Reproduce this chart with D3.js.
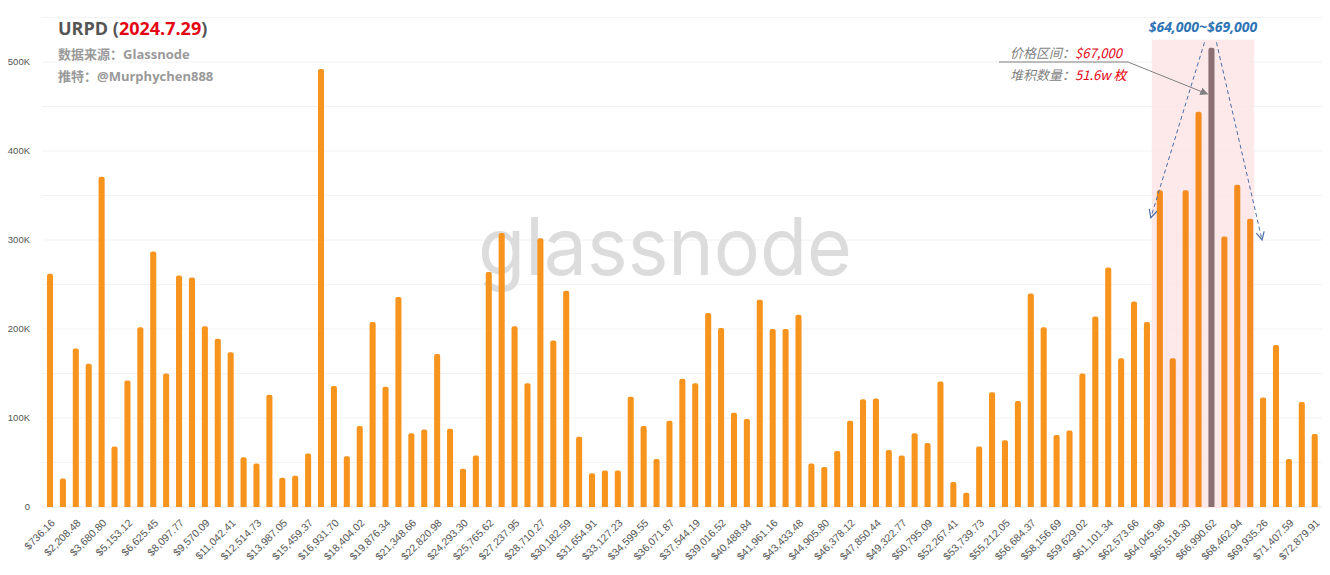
<!DOCTYPE html>
<html><head><meta charset="utf-8">
<script src="https://cdn.jsdelivr.net/npm/d3@7"></script>
<style>
html,body{margin:0;padding:0;background:#fff;}
svg{display:block;}
</style></head>
<body>
<svg id="chart" width="1330" height="575"></svg>
<script>
const categories = [
"$736.16","$1,472.32","$2,208.48","$2,944.64","$3,680.80","$4,416.96","$5,153.12","$5,889.29","$6,625.45","$7,361.61",
"$8,097.77","$8,833.93","$9,570.09","$10,306.25","$11,042.41","$11,778.57","$12,514.73","$13,250.89","$13,987.05","$14,723.21",
"$15,459.37","$16,195.54","$16,931.70","$17,667.86","$18,404.02","$19,140.18","$19,876.34","$20,612.50","$21,348.66","$22,084.82",
"$22,820.98","$23,557.14","$24,293.30","$25,029.46","$25,765.62","$26,501.79","$27,237.95","$27,974.11","$28,710.27","$29,446.43",
"$30,182.59","$30,918.75","$31,654.91","$32,391.07","$33,127.23","$33,863.39","$34,599.55","$35,335.71","$36,071.87","$36,808.04",
"$37,544.19","$38,280.36","$39,016.52","$39,752.68","$40,488.84","$41,225.00","$41,961.16","$42,697.32","$43,433.48","$44,169.64",
"$44,905.80","$45,641.96","$46,378.12","$47,114.29","$47,850.44","$48,586.61","$49,322.77","$50,058.93","$50,795.09","$51,531.25",
"$52,267.41","$53,003.57","$53,739.73","$54,475.89","$55,212.05","$55,948.21","$56,684.37","$57,420.54","$58,156.69","$58,892.86",
"$59,629.02","$60,365.18","$61,101.34","$61,837.50","$62,573.66","$63,309.82","$64,045.98","$64,782.14","$65,518.30","$66,254.46",
"$66,990.62","$67,726.79","$68,462.94","$69,199.11","$69,935.26","$70,671.43","$71,407.59","$72,143.75","$72,879.91"
];
// supply (BTC)
const supply = [
262000,32000,178000,161000,371000,68000,142000,202000,287000,150000,
260000,258000,203000,189000,174000,56000,49000,126000,33000,35000,
60000,492000,136000,57000,91000,208000,135000,236000,83000,87000,
172000,88000,43000,58000,264000,308000,203000,139000,302000,187000,
243000,79000,38000,41000,41000,124000,91000,54000,97000,144000,
139000,218000,201000,106000,99000,233000,200000,200000,216000,49000,
45000,63000,97000,121000,122000,64000,58000,83000,72000,141000,
28000,16000,68000,129000,75000,119000,240000,202000,81000,86000,
150000,214000,269000,167000,231000,208000,356000,167000,356000,444000,
516000,304000,362000,324000,123000,182000,54000,118000,82000
];
const yTickValues = [0,100000,200000,300000,400000,500000];
const yTickLabels = ["0","100K","200K","300K","400K","500K"];
const gridValues = [0,50000,100000,150000,200000,250000,300000,350000,400000,450000,500000,550000];
const highlightIndex = 90;
const rangeStart = 86, rangeEnd = 93;

const svg = d3.select("#chart");
const W = 1330, H = 575;
svg.append("rect").attr("width",W).attr("height",H).attr("fill","#fff");

const x = d3.scaleBand().domain(categories)
  .range([43.55, 1321.15]).paddingInner(0.53).paddingOuter(0.265);
const y = d3.scaleLinear().domain([0,550000]).range([507,17.5]);

// grid
svg.append("g").selectAll("line").data(gridValues).join("line")
  .attr("x1",42).attr("x2",1322)
  .attr("y1",d=>y(d)).attr("y2",d=>y(d))
  .attr("stroke",d=>d===0?"#e3e7ee":"#f2f2f2").attr("stroke-width",1);

// watermark
svg.append("text").attr("x",478).attr("y",275)
  .attr("font-family","Inter, 'Open Sans', sans-serif")
  .attr("font-size",80).attr("font-weight",400)
  .attr("fill","#dcdcdc").attr("textLength",374).attr("lengthAdjust","spacingAndGlyphs")
  .text("glassnode");

// highlight shading
const sx0 = x(categories[rangeStart]) - 5;
const sx1 = x(categories[rangeEnd]) + x.bandwidth() + 1;
svg.append("rect").attr("x",sx0).attr("y",y(525000))
  .attr("width",sx1-sx0).attr("height",y(0)-y(525000)+1)
  .attr("fill","#fde5e6").attr("opacity",0.85);

// bars
const bw = x.bandwidth();
svg.append("g").selectAll("path").data(supply).join("path")
  .attr("d",(d,i)=>{
    const x0 = x(categories[i]), x1 = x0 + bw, yt = y(d), yb = y(0), r = Math.min(2, bw/2);
    return `M${x0},${yb} L${x0},${yt+r} Q${x0},${yt} ${x0+r},${yt} L${x1-r},${yt} Q${x1},${yt} ${x1},${yt+r} L${x1},${yb} Z`;
  })
  .attr("fill",(d,i)=> i===highlightIndex ? "#8a7072" : (i>=rangeStart && i<=rangeEnd ? "#f38b1f" : "#f7941e"));

// y axis labels
svg.append("g").selectAll("text").data(yTickValues).join("text")
  .attr("x",30).attr("y",d=>y(d)).attr("dy","0.35em")
  .attr("text-anchor","end")
  .attr("font-family","'Liberation Sans', Arial, sans-serif")
  .attr("font-size",9.5).attr("fill","#555")
  .text((d,i)=>yTickLabels[i]);

// x axis labels (every other category)
const xAxis = d3.axisBottom(x)
  .tickValues(categories.filter((c,i)=>i%2===0))
  .tickSize(0).tickPadding(0);
const gx = svg.append("g").attr("transform","translate(0,507)").call(xAxis);
gx.select(".domain").remove();
gx.selectAll("text")
  .attr("font-family","'Liberation Sans', Arial, sans-serif")
  .attr("font-size",10.5).attr("fill","#555")
  .attr("text-anchor","end")
  .attr("transform","translate(3,14) rotate(-45)")
  .attr("dy","0.35em").attr("y",0).attr("x",0);

// title
const title = svg.append("text").attr("x",58).attr("y",35)
  .attr("font-family","'Open Sans', 'Noto Sans', sans-serif")
  .attr("font-size",18).attr("font-weight",700);
title.append("tspan").attr("fill","#555").text("URPD (");
title.append("tspan").attr("fill","#e30613").text("2024.7.29");
title.append("tspan").attr("fill","#555").text(")");

svg.append("text").attr("x",58).attr("y",59)
  .attr("font-family","'Open Sans', 'Noto Sans CJK SC', sans-serif")
  .attr("font-size",13).attr("font-weight",700).attr("fill","#9a9a9a")
  .text("数据来源：Glassnode");
svg.append("text").attr("x",58).attr("y",81)
  .attr("font-family","'Open Sans', 'Noto Sans CJK SC', sans-serif")
  .attr("font-size",13).attr("font-weight",700).attr("fill","#9a9a9a")
  .text("推特：@Murphychen888");

// annotations
const cx = x(categories[highlightIndex]) + bw/2;
const defs = svg.append("defs");
defs.append("marker").attr("id","grayArrow").attr("viewBox","0 0 10 10")
  .attr("refX",9).attr("refY",5).attr("markerWidth",8).attr("markerHeight",8)
  .attr("orient","auto").attr("markerUnits","userSpaceOnUse")
  .append("path").attr("d","M0,0 L10,5 L0,10 Z").attr("fill","#7f7f7f");
defs.append("marker").attr("id","blueArrow").attr("viewBox","0 0 10 10")
  .attr("refX",9).attr("refY",5).attr("markerWidth",10).attr("markerHeight",10)
  .attr("orient","auto").attr("markerUnits","userSpaceOnUse")
  .append("path").attr("d","M1,1 L9,5 L1,9").attr("fill","none")
  .attr("stroke","#4a6ea8").attr("stroke-width",1.2);

svg.append("text").attr("x",(sx0+sx1)/2).attr("y",32)
  .attr("text-anchor","middle")
  .attr("font-family","'Open Sans', 'Noto Sans', sans-serif")
  .attr("font-size",14).attr("font-weight",700).attr("font-style","italic")
  .attr("fill","#2e74b5").text("$64,000~$69,000");

const a1 = svg.append("text").attr("x",1010).attr("y",58)
  .attr("font-family","'Noto Sans CJK SC', sans-serif").attr("font-size",13).attr("font-style","italic");
a1.append("tspan").attr("fill","#7f7f7f").text("价格区间：");
a1.append("tspan").attr("fill","#e30613").text("$67,000");
const a2 = svg.append("text").attr("x",1010).attr("y",80)
  .attr("font-family","'Noto Sans CJK SC', sans-serif").attr("font-size",13).attr("font-style","italic");
a2.append("tspan").attr("fill","#7f7f7f").text("堆积数量：");
a2.append("tspan").attr("fill","#e30613").text("51.6w 枚");

svg.append("line").attr("x1",999).attr("x2",1128).attr("y1",62).attr("y2",62)
  .attr("stroke","#7f7f7f").attr("stroke-width",1);
svg.append("line").attr("x1",1128).attr("y1",62).attr("x2",cx-4).attr("y2",y(464000))
  .attr("stroke","#7f7f7f").attr("stroke-width",1).attr("marker-end","url(#grayArrow)");

svg.append("line").attr("x1",cx-7).attr("y1",y(522000))
  .attr("x2",x(categories[rangeStart])-6).attr("y2",y(325000))
  .attr("stroke","#4a6ea8").attr("stroke-width",1).attr("stroke-dasharray","4,3")
  .attr("marker-end","url(#blueArrow)");
svg.append("line").attr("x1",cx+5).attr("y1",y(522000))
  .attr("x2",x(categories[rangeEnd+1])+2).attr("y2",y(300000))
  .attr("stroke","#4a6ea8").attr("stroke-width",1).attr("stroke-dasharray","4,3")
  .attr("marker-end","url(#blueArrow)");
</script>
</body></html>
